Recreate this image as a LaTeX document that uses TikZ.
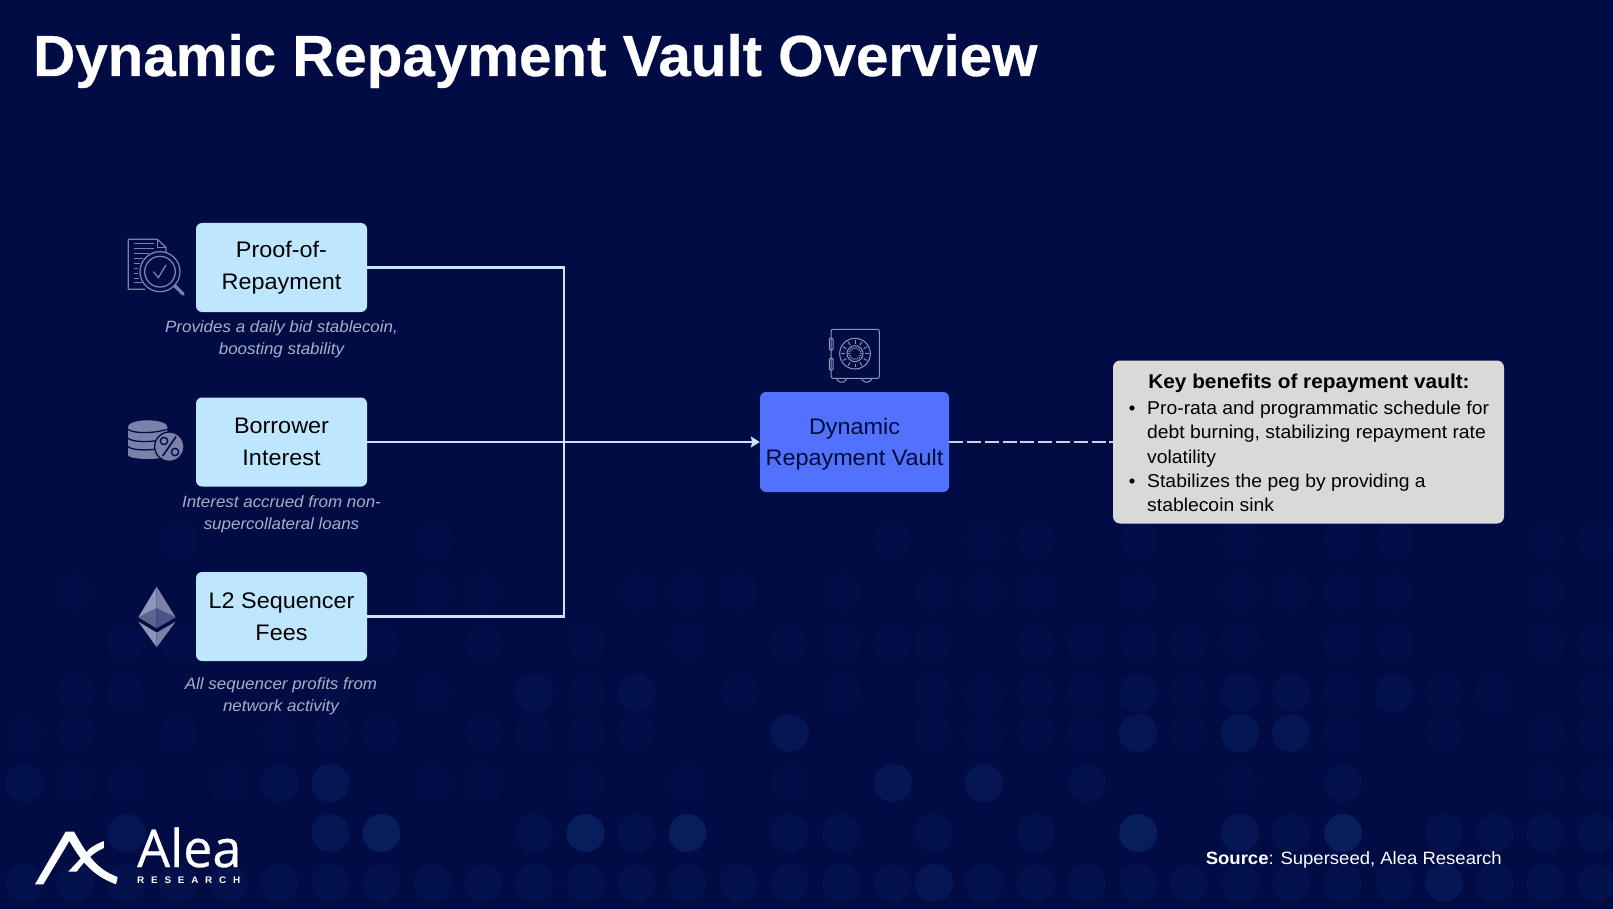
\documentclass[tikz,border=0pt]{standalone}
\usepackage{fontspec}
\setmainfont[FakeStretch=1.04]{Liberation Sans}
\newfontfamily\logofont[FakeBold=0.5]{Open Sans}
\newfontfamily\titlefont[FakeStretch=1.005,BoldFeatures={FakeBold=0.5}]{Liberation Sans}
\usetikzlibrary{arrows.meta,calc}
\definecolor{bgc}{HTML}{010C45}
\definecolor{dotZ}{HTML}{020E48}
\definecolor{dotA}{HTML}{03114C}
\definecolor{dotB}{HTML}{051654}
\definecolor{dotC}{HTML}{071D5C}
\definecolor{boxc}{HTML}{BFE6FF}
\definecolor{linkc}{HTML}{C6E6FF}
\definecolor{vaultc}{HTML}{5271FF}
\definecolor{inkc}{HTML}{000C36}
\definecolor{capc}{HTML}{A9AEC8}
\definecolor{iconc}{HTML}{7B81A9}
\definecolor{iconl}{HTML}{8F95BA}
\definecolor{icond}{HTML}{4B5288}
\definecolor{dashc}{HTML}{CBD2E0}
\definecolor{greyc}{HTML}{D9D9D9}
\newcommand\dotrow[3]{\foreach \px in {#3}{\fill[#2] (\px,#1) circle (19);}}
\tikzset{
  srcbox/.style={draw=none,fill=boxc,rounded corners=6,minimum width=171,minimum height=89,inner sep=0,align=center,text=black,font=\fontsize{22.5}{32}\selectfont},
  vaultbox/.style={fill=vaultc,rounded corners=6,minimum width=189,minimum height=100,inner sep=0,align=center,text=inkc,font=\fontsize{22.5}{31}\selectfont},
  greybox/.style={fill=greyc,rounded corners=7,minimum width=391,minimum height=163,inner sep=0},
  caption/.style={inner sep=0,align=center,text=capc,font=\fontsize{16.3}{22}\selectfont\itshape},
  link/.style={draw=linkc,line width=2.4},
  dashlink/.style={draw=dashc,line width=2.2,dash pattern=on 14 off 3.8},
  icline/.style={draw=iconc,line width=1.3,fill=none},
}
\begin{document}
\begin{tikzpicture}[x=1pt,y=-1pt]
\useasboundingbox (0,0) rectangle (1613,909);
\fill[bgc] (0,0) rectangle (1613,909);
% background dots
\dotrow{540}{dotZ}{177.5,432.5,893,984,1036,1138,1240,1343,1394,1545,1597}
\dotrow{592}{dotZ}{75.5,432.5,483.5,636.5,687.5,738.5,841,934,984,1036,1138,1240,1291,1343,1394,1545}
\dotrow{643}{dotZ}{126.5,177.5,381.5,483.5,585.5,687.5,789.5,841,893,934,1036,1087,1138,1189,1240,1343,1394,1545,1597}
\dotrow{693}{dotZ}{75.5,126.5,330.5,432.5,585.5,738.5,841,934,984,1036,1087,1189,1343,1444,1495,1597}
\dotrow{693}{dotA}{534.5,636.5,1138,1240,1291,1394}
\dotrow{733}{dotZ}{24.5,75.5,177.5,279.5,330.5,381.5,483.5,534.5,585.5,636.5,934,984,1036,1087,1189,1343,1444,1545,1597}
\dotrow{733}{dotB}{789.5,1138,1240,1291}
\dotrow{783}{dotZ}{75.5,126.5,228.5,432.5,483.5,585.5,687.5,789.5,1240,1545,1597}
\dotrow{783}{dotA}{24.5,279.5,1087,1343}
\dotrow{783}{dotB}{330.5,893,984}
\dotrow{833}{dotA}{534.5,636.5,789.5,841,934,1036,1291,1444,1495,1545,1597}
\dotrow{833}{dotB}{126.5,330.5,1240}
\dotrow{833}{dotC}{381.5,585.5,687.5,1138,1343}
\dotrow{883}{dotA}{24.5,75.5,126.5,177.5,228.5,279.5,330.5,381.5,432.5,483.5,534.5,585.5,636.5,687.5,738.5,789.5,841,893,984,1036,1087,1138,1189,1240,1291,1343,1394,1495,1545,1597}
\dotrow{883}{dotB}{934,1444}
% title
\node[anchor=base west,inner sep=0,text=white,font=\titlefont\fontsize{58}{60}\selectfont\bfseries] (title) at (33,76) {Dynamic Repayment Vault Overview};
% source boxes
\node[srcbox] (proof) at (281.5,267.5) {};
\node[inner sep=0,align=center,text=black,font=\fontsize{22.5}{32}\selectfont] (prooftext) at (281.5,267.5) {Proof-of-\\Repayment};
\node[srcbox] (borrower) at (281.5,442) {Borrower\\Interest};
\node[srcbox] (l2) at (281.5,616.5) {L2 Sequencer\\Fees};
\node[caption] (cap1) at (281.5,339.5) {Provides a daily bid stablecoin,\\boosting stability};
\node[caption] (cap2) at (281.5,514) {Interest accrued from non-\\supercollateral loans};
\node[caption] (cap3) at (281,696) {All sequencer profits from\\network activity};
% vault and benefits
\node[vaultbox] (vault) at (854.5,442) {};
\node[inner sep=0,align=center,text=inkc,font=\fontsize{22.5}{31}\selectfont] (vaulttext) at (854.5,444) {Dynamic\\Repayment Vault};
\node[greybox] (benefits) at (1308.5,442) {};
\coordinate (junction) at (564,442);
\draw[link] (proof.east) -| (junction);
\draw[link] (l2.east) -| (junction);
\draw[link,-{Stealth[length=9,width=11,inset=1.5]}] (borrower.east) -- (vault.west);
\draw[dashlink] (vault.east) -- (benefits.west);
% benefits text
\node[inner sep=0,text=black,font=\fontsize{20}{24}\selectfont\bfseries] (head) at (1309,383) {Key benefits of repayment vault:};
\node[inner sep=0,anchor=north west,align=left,text=black,font=\fontsize{18.6}{24.5}\selectfont] (b1) at (1147,400.5) {Pro-rata and programmatic schedule for\\debt burning, stabilizing repayment rate\\volatility};
\node[inner sep=0,anchor=north west,align=left,text=black,font=\fontsize{18.6}{24.5}\selectfont] (b2) at (1147,473.5) {Stabilizes the peg by providing a\\stablecoin sink};
\fill[black] (1132,408) circle (2.6);
\fill[black] (1132,481) circle (2.6);
% doc icon
\begin{scope}[shift={(110,210)},scale=1/3]
\draw[icline,line join=round] (105,238) -- (55,238) -- (55,88) -- (142,88) -- (168,112) -- (168,128);
\draw[icline] (142,88) -- (142,112) -- (168,112);
\foreach \yy/\xa/\xb in {100/72/132,115/72/132,130/72/118,145/72/98,160/72/90,175/72/84,190/72/84,205/72/86,218/72/96}{\draw[iconc,line width=1.3] (\xa,\yy) -- (\xb,\yy);}
\draw[icline] (150,185) circle (60);
\draw[icline] (150,185) circle (46);
\draw[icline] (130,185) -- (145,203) -- (168,165);
\draw[iconc,line width=3.2,line cap=round] (195,228) -- (220,253);
\end{scope}
% coins icon
\begin{scope}[shift={(110,390)},scale=1/3]
\fill[iconc] (54,110) arc[start angle=180,end angle=360,x radius=59,y radius=19] -- (172,195) arc[start angle=0,end angle=180,x radius=59,y radius=12] -- cycle;
\foreach \yy in {118,145,170}{\draw[bgc,line width=1.3] (54,\yy) .. controls (70,\yy+13) and (130,\yy+13) .. (172,\yy);}
\fill[iconc,draw=bgc,line width=1.3] (178,170) circle (44);
\draw[bgc,line width=1.6] (158,198) -- (198,140);
\draw[bgc,line width=1.4] (162,153) circle (11);
\draw[bgc,line width=1.4] (195,186) circle (11);
\end{scope}
% ethereum icon
\begin{scope}[shift={(110,390)},scale=1/3]
\fill[iconl] (140,590) -- (85,682) -- (140,655) -- cycle;
\fill[iconc] (140,590) -- (197,682) -- (140,655) -- cycle;
\fill[iconc!75!bgc] (85,682) -- (140,655) -- (140,715) -- cycle;
\fill[icond] (197,682) -- (140,655) -- (140,715) -- cycle;
\fill[iconl] (85,695) -- (140,728) -- (140,772) -- cycle;
\fill[iconc] (197,695) -- (140,728) -- (140,772) -- cycle;
\end{scope}
% safe icon
\begin{scope}[shift={(740,310)},scale=1/3]
\draw[iconl,line width=1,rounded corners=2] (273,58) rectangle (418,205);
\draw[iconl,line width=1,rounded corners=1] (268,85) rectangle (279,120);
\draw[iconl,line width=1,rounded corners=1] (268,145) rectangle (279,180);
\draw[iconl,line width=1,rounded corners=2] (290,205) -- (294,216) -- (316,216) -- (320,205);
\draw[iconl,line width=1,rounded corners=2] (365,205) -- (369,216) -- (391,216) -- (395,205);
\draw[iconl,line width=1] (345,131) circle (46);
\draw[iconl,line width=1] (345,131) circle (24);
\foreach \ang in {0,30,...,330}{\draw[iconl,line width=1] ($(345,131)+(\ang:30)$) -- ($(345,131)+(\ang:41)$);}
\foreach \ang in {0,20,...,340}{\draw[iconl,line width=.8] ($(345,131)+(\ang:14)$) -- ($(345,131)+(\ang:20)$);}
\end{scope}
% logo
\begin{scope}[shift={(0,780)},scale=1/3]
\fill[white] (105,313) -- (197,155) -- (222,155) .. controls (262,225) and (290,268) .. (353,291) -- (348,313) .. controls (275,285) and (245,245) .. (208,183) -- (130,313) -- cycle;
\fill[white] (205,275) -- (270,205) .. controls (285,195) and (298,188) .. (312,183) -- (312,204) .. controls (285,215) and (255,240) .. (230,275) -- cycle;
\end{scope}
\node[anchor=base west,inner sep=0,text=white,font=\logofont\fontsize{52}{52}\selectfont] (alea) at (137,867) {Alea};
\node[anchor=base west,inner sep=0,text=white,font=\bfseries\fontsize{9.5}{10}\selectfont] (research) at (137,883) {\makebox[103pt][s]{R\hfill E\hfill S\hfill E\hfill A\hfill R\hfill C\hfill H}};
% source
\node[anchor=base east,inner sep=0,text=white,font=\fontsize{17.8}{20}\selectfont] (source) at (1502,864) {\textbf{Source}: Superseed, Alea Research};
\end{tikzpicture}
\end{document}
